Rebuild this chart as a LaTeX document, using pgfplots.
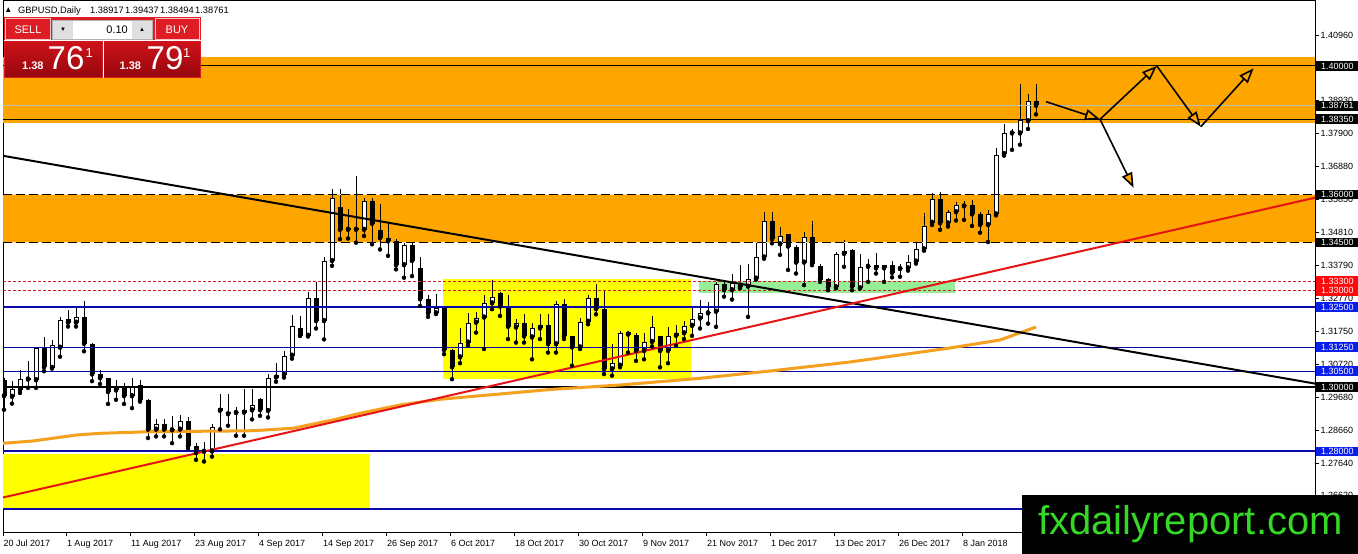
\documentclass[border=0pt]{standalone}
\usepackage{fontspec}
\setmainfont{Liberation Sans}
\usepackage{pgfplots}
\pgfplotsset{compat=1.18}
\usepackage{pgfplotstable}
\usetikzlibrary{arrows.meta}

\definecolor{bandorange}{RGB}{255,165,0}
\definecolor{maorange}{RGB}{245,160,30}
\definecolor{boxyellow}{RGB}{255,255,0}
\definecolor{boxgreen}{RGB}{150,238,150}
\definecolor{levelblue}{RGB}{10,10,170}
\definecolor{levelred}{RGB}{210,30,30}
\definecolor{trendred}{RGB}{230,20,20}
\definecolor{tagblue}{RGB}{10,30,235}
\definecolor{tagred}{RGB}{255,10,10}
\definecolor{bidgray}{RGB}{190,190,190}
\definecolor{wmgreen}{RGB}{55,215,40}
\definecolor{btnred}{RGB}{222,28,36}
\definecolor{pricered}{RGB}{205,18,26}
\definecolor{pricedark}{RGB}{150,6,12}

\newcommand{\tickfont}{\fontsize{9}{10}\selectfont}

% daily candles, bar index i (0 = 20 Jul 2017)
\pgfplotstableread{
i o h l c
0 1.3024 1.3030 1.2930 1.2972
1 1.2970 1.3019 1.2949 1.2993
2 1.2991 1.3055 1.2982 1.3027
3 1.3027 1.3081 1.2998 1.3024
4 1.3022 1.3125 1.2998 1.3121
5 1.3121 1.3157 1.3050 1.3062
6 1.3060 1.3147 1.3058 1.3133
7 1.3123 1.3220 1.3095 1.3209
8 1.3211 1.3241 1.3189 1.3201
9 1.3201 1.3248 1.3189 1.3220
10 1.3220 1.3267 1.3112 1.3135
11 1.3135 1.3137 1.3019 1.3040
12 1.3040 1.3055 1.3010 1.3028
13 1.3029 1.3030 1.2948 1.2985
14 1.2990 1.3024 1.2961 1.3000
15 1.3001 1.3014 1.2948 1.2972
16 1.2972 1.3029 1.2935 1.3005
17 1.3007 1.3024 1.2955 1.2959
18 1.2961 1.2963 1.2842 1.2868
19 1.2868 1.2901 1.2847 1.2886
20 1.2886 1.2901 1.2847 1.2868
21 1.2868 1.2909 1.2826 1.2866
22 1.2868 1.2915 1.2847 1.2894
23 1.2894 1.2907 1.2810 1.2816
24 1.2816 1.2826 1.2774 1.2795
25 1.2799 1.2831 1.2769 1.2801
26 1.2800 1.2886 1.2784 1.2876
27 1.2934 1.2978 1.2869 1.2927
28 1.2923 1.2978 1.2880 1.2916
29 1.2920 1.2937 1.2849 1.2922
30 1.2921 1.2994 1.2849 1.2928
31 1.2928 1.2994 1.2900 1.2945
32 1.2963 1.2968 1.2911 1.2929
33 1.2926 1.3040 1.2906 1.3030
34 1.3030 1.3077 1.3017 1.3038
35 1.3038 1.3113 1.3030 1.3098
36 1.3098 1.3224 1.3089 1.3191
37 1.3183 1.3222 1.3160 1.3160
38 1.3160 1.3297 1.3158 1.3279
39 1.3279 1.3328 1.3183 1.3206
40 1.3206 1.3404 1.3149 1.3393
41 1.3393 1.3616 1.3378 1.3590
42 1.3562 1.3618 1.3461 1.3490
43 1.3490 1.3554 1.3463 1.3497
44 1.3497 1.3658 1.3450 1.3490
45 1.3490 1.3590 1.3471 1.3580
46 1.3580 1.3590 1.3445 1.3509
47 1.3489 1.3569 1.3429 1.3464
48 1.3465 1.3512 1.3409 1.3454
49 1.3455 1.3461 1.3367 1.3380
50 1.3380 1.3450 1.3341 1.3442
51 1.3442 1.3450 1.3346 1.3393
52 1.3372 1.3404 1.3253 1.3274
53 1.3274 1.3286 1.3219 1.3230
54 1.3230 1.3289 1.3228 1.3246
55 1.3248 1.3253 1.3103 1.3116
56 1.3116 1.3118 1.3025 1.3062
57 1.3093 1.3183 1.3075 1.3139
58 1.3139 1.3232 1.3129 1.3201
59 1.3201 1.3234 1.3170 1.3217
60 1.3217 1.3286 1.3119 1.3261
61 1.3261 1.3334 1.3243 1.3282
62 1.3294 1.3296 1.3222 1.3251
63 1.3248 1.3286 1.3150 1.3188
64 1.3186 1.3212 1.3139 1.3201
65 1.3201 1.3227 1.3139 1.3158
66 1.3155 1.3201 1.3087 1.3183
67 1.3183 1.3227 1.3150 1.3194
68 1.3194 1.3227 1.3108 1.3134
69 1.3134 1.3269 1.3108 1.3258
70 1.3258 1.3276 1.3150 1.3158
71 1.3158 1.3160 1.3067 1.3124
72 1.3124 1.3215 1.3119 1.3204
73 1.3204 1.3286 1.3196 1.3279
74 1.3279 1.3320 1.3227 1.3243
75 1.3243 1.3300 1.3041 1.3056
76 1.3056 1.3134 1.3036 1.3074
77 1.3067 1.3175 1.3062 1.3170
78 1.3172 1.3175 1.3108 1.3164
79 1.3164 1.3168 1.3082 1.3113
80 1.3113 1.3170 1.3087 1.3141
81 1.3141 1.3222 1.3127 1.3189
82 1.3158 1.3160 1.3062 1.3113
83 1.3113 1.3186 1.3075 1.3160
84 1.3160 1.3193 1.3129 1.3168
85 1.3168 1.3206 1.3150 1.3191
86 1.3191 1.3253 1.3160 1.3212
87 1.3214 1.3271 1.3183 1.3230
88 1.3230 1.3266 1.3198 1.3232
89 1.3235 1.3328 1.3188 1.3320
90 1.3320 1.3328 1.3282 1.3302
91 1.3302 1.3354 1.3273 1.3323
92 1.3320 1.3380 1.3308 1.3311
93 1.3313 1.3383 1.3219 1.3338
94 1.3338 1.3448 1.3335 1.3404
95 1.3404 1.3547 1.3400 1.3519
96 1.3519 1.3547 1.3448 1.3461
97 1.3445 1.3500 1.3412 1.3472
98 1.3477 1.3478 1.3365 1.3438
99 1.3438 1.3443 1.3354 1.3388
100 1.3388 1.3484 1.3318 1.3467
101 1.3469 1.3516 1.3380 1.3385
102 1.3377 1.3385 1.3328 1.3334
103 1.3336 1.3339 1.3302 1.3311
104 1.3311 1.3422 1.3308 1.3415
105 1.3415 1.3458 1.3375 1.3425
106 1.3427 1.3429 1.3302 1.3313
107 1.3308 1.3415 1.3308 1.3375
108 1.3375 1.3398 1.3328 1.3377
109 1.3380 1.3417 1.3354 1.3370
110 1.3370 1.3380 1.3328 1.3379
111 1.3380 1.3394 1.3342 1.3356
112 1.3368 1.3385 1.3344 1.3370
113 1.3370 1.3412 1.3363 1.3391
114 1.3391 1.3453 1.3385 1.3429
115 1.3429 1.3542 1.3425 1.3502
116 1.3512 1.3604 1.3505 1.3585
117 1.3585 1.3609 1.3490 1.3510
118 1.3510 1.3552 1.3500 1.3547
119 1.3545 1.3578 1.3519 1.3568
120 1.3563 1.3581 1.3521 1.3567
121 1.3567 1.3583 1.3502 1.3538
122 1.3538 1.3547 1.3481 1.3505
123 1.3505 1.3552 1.3452 1.3538
124 1.3538 1.3744 1.3535 1.3724
125 1.3726 1.3819 1.3721 1.3790
126 1.3790 1.3804 1.3739 1.3794
127 1.3790 1.3944 1.3755 1.3832
128 1.3828 1.3913 1.3804 1.3892
129 1.38917 1.39437 1.38494 1.38761
}\candles

% moving average
\pgfplotstableread{
i ma
-0.125 1.28255
3.6 1.28327
9.1 1.28514
12 1.28566
18.25 1.28616
28.25 1.28638
31.1 1.28647
36.1 1.28722
41.1 1.28981
44.5 1.29189
49.5 1.29447
54.5 1.29625
68.6 1.29936
77 1.30070
87 1.30278
95.75 1.30506
105.75 1.30786
112 1.31004
118.25 1.31222
124.5 1.31471
129 1.31875
}\maline

\newcommand{\hlevel}[3]{\addplot[#1, line width=#2] coordinates {(-0.125,#3) (163.875,#3)};}
\newcommand{\zone}[5]{\addplot[fill=#1, draw=none] coordinates {(#2,#4) (#3,#4) (#3,#5) (#2,#5)} -- cycle;}
\newcommand{\pricetag}[3]{%
  \fill[#2] ([yshift=-4.75pt]#1) rectangle ++(41.5pt,9.5pt);
  \node[anchor=west, text=white, inner sep=0pt, font=\tickfont] at ([xshift=4.5pt]#1) {#3};}

\begin{document}
\begin{tikzpicture}
\fill[white] (0,0) rectangle (1358pt,554pt);
\begin{axis}[
  at={(3pt,21pt)}, anchor=south west,
  scale only axis, width=1312pt, height=532.5pt,
  xmin=-0.125, xmax=163.875, ymin=1.25463, ymax=1.42039,
  axis line style={black, line width=1pt},
  tick align=outside, major tick length=3.5pt,
  tick style={black, line width=0.8pt},
  xtick pos=left, ytick pos=right, yticklabel pos=right,
  xtick={-0.08,7.85,15.85,23.85,31.85,39.85,47.85,55.85,63.85,71.85,79.85,87.85,95.85,103.85,111.85,119.85},
  xticklabels={20 Jul 2017,1 Aug 2017,11 Aug 2017,23 Aug 2017,4 Sep 2017,14 Sep 2017,26 Sep 2017,6 Oct 2017,18 Oct 2017,30 Oct 2017,9 Nov 2017,21 Nov 2017,1 Dec 2017,13 Dec 2017,26 Dec 2017,8 Jan 2018},
  ytick={1.4096,1.3994,1.3893,1.3790,1.3688,1.3585,1.3481,1.3379,1.3277,1.3175,1.3072,1.2968,1.2866,1.2764,1.2662},
  yticklabels={1.40960,1.39940,1.38930,1.37900,1.36880,1.35850,1.34810,1.33790,1.32770,1.31750,1.30720,1.29680,1.28660,1.27640,1.26620},
  ticklabel style={font=\tickfont},
  xticklabel style={anchor=north west, inner sep=0pt, yshift=-3.5pt},
  yticklabel style={anchor=west, inner sep=0pt, xshift=2pt},
]
% zones
\zone{bandorange}{-0.125}{163.875}{1.38226}{1.40265}
\zone{bandorange}{-0.125}{163.875}{1.3450}{1.3600}
\zone{boxyellow}{-0.125}{45.75}{1.2622}{1.2792}
\zone{boxyellow}{54.84}{85.84}{1.30272}{1.33366}
\zone{boxgreen}{86.9}{118.9}{1.3294}{1.3330}

% candles: wicks, bodies, white fill of rising bodies
\addplot[only marks, mark=none, error bars/.cd, y dir=plus, y explicit, error mark=none,
  error bar style={line width=1pt, black}]
  table[x=i, y=l, y error plus expr=\thisrow{h}-\thisrow{l}] {\candles};
\addplot[only marks, mark=none, error bars/.cd, y dir=plus, y explicit, error mark=none,
  error bar style={line width=5pt, black}]
  table[x=i, y expr={min(\thisrow{o},\thisrow{c})}, y error plus expr={max(abs(\thisrow{c}-\thisrow{o}),0.00033)}] {\candles};
\addplot[only marks, mark=none, error bars/.cd, y dir=plus, y explicit, error mark=none,
  error bar style={line width=3pt, white}]
  table[x=i, y expr={min(\thisrow{o},\thisrow{c})+0.00031}, y error plus expr={\thisrow{c}-\thisrow{o}>0.00065 ? \thisrow{c}-\thisrow{o}-0.00062 : 0}] {\candles};

% horizontal levels
\hlevel{black}{1pt}{1.40000}
\hlevel{bidgray}{1pt}{1.38761}
\hlevel{black}{1pt}{1.38350}
\hlevel{white!70!bandorange}{1pt}{1.36000}
\hlevel{white!70!bandorange}{1pt}{1.34500}
\hlevel{black, dash pattern=on 9pt off 4pt}{1pt}{1.36000}
\hlevel{black, dash pattern=on 9pt off 4pt}{1pt}{1.34500}
\hlevel{levelred, dash pattern=on 3pt off 2pt}{0.8pt}{1.33300}
\hlevel{levelred, dash pattern=on 3pt off 2pt}{0.8pt}{1.33000}
\hlevel{levelblue}{2pt}{1.32500}
\hlevel{levelblue}{1pt}{1.31250}
\hlevel{levelblue}{1pt}{1.30500}
\hlevel{black}{2pt}{1.30000}
\hlevel{levelblue}{2pt}{1.28000}
\hlevel{levelblue}{2pt}{1.26200}

% moving average and trend lines
\addplot[maorange, line width=3pt] table[x=i, y=ma] {\maline};
\addplot[black, line width=2pt] coordinates {(-0.125,1.37205) (163.875,1.30114)};
\addplot[trendred, line width=2pt] coordinates {(-0.125,1.26568) (163.875,1.35900)};

% projected path
\tikzset{proj/.style={black, line width=1.6pt, -{Triangle[length=15pt, width=11pt, fill=bandorange]}}}
\addplot[proj] coordinates {(130.25,1.38889) (137,1.38341)};
\addplot[proj] coordinates {(137,1.38341) (144.1,1.40000)};
\addplot[proj] coordinates {(144.1,1.40000) (149.6,1.38111)};
\addplot[proj] coordinates {(149.6,1.38111) (156.2,1.39928)};
\addplot[proj] coordinates {(137,1.38341) (141.2,1.36212)};

\coordinate (t1) at (axis cs:164.06,1.40000);
\coordinate (t2) at (axis cs:164.06,1.38761);
\coordinate (t3) at (axis cs:164.06,1.38350);
\coordinate (t4) at (axis cs:164.06,1.36000);
\coordinate (t5) at (axis cs:164.06,1.34500);
\coordinate (t6) at (axis cs:164.06,1.33300);
\coordinate (t7) at (axis cs:164.06,1.33000);
\coordinate (t8) at (axis cs:164.06,1.32500);
\coordinate (t9) at (axis cs:164.06,1.31250);
\coordinate (t10) at (axis cs:164.06,1.30500);
\coordinate (t11) at (axis cs:164.06,1.30000);
\coordinate (t12) at (axis cs:164.06,1.28000);
\end{axis}

% price tags on the scale
\pricetag{t1}{black}{1.40000}
\pricetag{t2}{black}{1.38761}
\pricetag{t3}{black}{1.38350}
\pricetag{t4}{black}{1.36000}
\pricetag{t5}{black}{1.34500}
\pricetag{t6}{tagred}{1.33300}
\pricetag{t7}{tagred}{1.33000}
\pricetag{t8}{tagblue}{1.32500}
\pricetag{t9}{tagblue}{1.31250}
\pricetag{t10}{tagblue}{1.30500}
\pricetag{t11}{black}{1.30000}
\pricetag{t12}{tagblue}{1.28000}

% chart title
\begin{scope}[x=1pt, y=1pt]
\fill[black] (6,542) -- (10.5,542) -- (8.25,546.5) -- cycle;
\node[anchor=base west, inner sep=0pt, font=\fontsize{9.3}{10}\selectfont] at (18,540.5) {GBPUSD,Daily};
\node[anchor=base west, inner sep=0pt, font=\fontsize{9.3}{10}\selectfont] at (90,540.5) {1.38917};
\node[anchor=base west, inner sep=0pt, font=\fontsize{9.3}{10}\selectfont] at (125,540.5) {1.39437};
\node[anchor=base west, inner sep=0pt, font=\fontsize{9.3}{10}\selectfont] at (160,540.5) {1.38494};
\node[anchor=base west, inner sep=0pt, font=\fontsize{9.3}{10}\selectfont] at (195,540.5) {1.38761};

% one-click trading panel
\fill[btnred] (4,476) rectangle (201,537);
\fill[white] (4,512.5) rectangle (201,513.5);
\fill[white] (102.5,476) rectangle (103.5,512.5);
\draw[white!75!btnred, line width=0.8pt] (5.5,514.5) rectangle (50.5,535.5);
\draw[white!75!btnred, line width=0.8pt] (155.5,514.5) rectangle (199.5,535.5);
\fill[white] (52,514) rectangle (153,534);
\draw[gray!60] (52.5,514.5) rectangle (152.5,533.5);
\fill[gray!25] (53,515) rectangle (73,533);
\fill[gray!25] (132,515) rectangle (152,533);
\node[font=\fontsize{6}{7}\selectfont] at (63,524) {▼};
\node[font=\fontsize{6}{7}\selectfont] at (142,524.5) {▲};
\node[anchor=east, inner sep=0pt, font=\fontsize{11}{12}\selectfont] at (128,524) {0.10};
\node[text=white, inner sep=0pt, font=\fontsize{11}{12}\selectfont] at (28,524) {SELL};
\node[text=white, inner sep=0pt, font=\fontsize{11}{12}\selectfont] at (177,524) {BUY};
\shade[top color=pricered, bottom color=pricedark] (5,477) rectangle (102,512);
\shade[top color=pricered, bottom color=pricedark] (104,477) rectangle (200,512);
\node[anchor=base west, text=white, inner sep=0pt, font=\fontsize{11}{12}\selectfont\bfseries] at (22,484.7) {1.38};
\node[anchor=base west, text=white, inner sep=0pt, font=\fontsize{33}{34}\selectfont] at (47.5,484.7) {76};
\node[anchor=base west, text=white, inner sep=0pt, font=\fontsize{13}{14}\selectfont] at (85.5,496.5) {1};
\node[anchor=base west, text=white, inner sep=0pt, font=\fontsize{11}{12}\selectfont\bfseries] at (119.5,484.7) {1.38};
\node[anchor=base west, text=white, inner sep=0pt, font=\fontsize{33}{34}\selectfont] at (146.5,484.7) {79};
\node[anchor=base west, text=white, inner sep=0pt, font=\fontsize{13}{14}\selectfont] at (183,496.5) {1};

% watermark
\fill[black] (1022,0) rectangle (1358,59);
\node[anchor=base west, text=wmgreen, inner sep=0pt, font=\fontsize{40}{42}\selectfont] at (1038,19) {fxdailyreport.com};
\end{scope}

\pgfresetboundingbox
\path[use as bounding box] (0,0) rectangle (1358pt,554pt);
\end{tikzpicture}
\end{document}
